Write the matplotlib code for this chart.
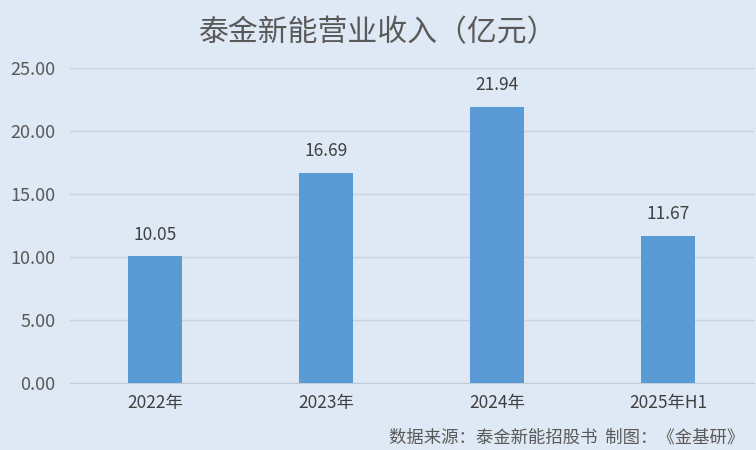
import matplotlib.pyplot as plt

plt.rcParams['font.family'] = ['Noto Sans CJK SC', 'DejaVu Sans']

categories = ["2022年", "2023年", "2024年", "2025年H1"]
revenue = [10.05, 16.69, 21.94, 11.67]
yticks = [0, 5, 10, 15, 20, 25]

bg = "#dfe9f5"
fig = plt.figure(figsize=(7.56, 4.5), dpi=100, facecolor=bg)
ax = fig.add_axes([0.092, 0.149, 0.905, 0.70], facecolor=bg)

x = range(len(categories))
bars = ax.bar(x, revenue, width=0.315, color="#5b9bd5", zorder=3)
for xi, v in zip(x, revenue):
    ax.text(xi, v + 1.0, f"{v:.2f}", ha="center", va="bottom",
            fontsize=12.5, color="#404040")

ax.set_xlim(-0.5, 3.5)
ax.set_ylim(0, 25)
ax.set_yticks(yticks)
ax.set_yticklabels([f"{t:.2f}" for t in yticks], fontsize=13, color="#595959")
ax.set_xticks(list(x))
ax.set_xticklabels(categories, fontsize=12.5, color="#404040")
ax.tick_params(length=0, pad=8)
ax.tick_params(axis="y", pad=10)
ax.grid(axis="y", color="#c8d4e0", linewidth=1, zorder=0)
for s in ["top", "right", "left"]:
    ax.spines[s].set_visible(False)
ax.spines["bottom"].set_color("#c0ccd8")

fig.text(0.5, 0.927, "泰金新能营业收入（亿元）", ha="center", va="center",
         fontsize=21.5, color="#595959")
fig.text(0.985, 0.028, "数据来源：泰金新能招股书  制图：《金基研》", ha="right",
         va="center", fontsize=12.5, color="#595959")

fig.savefig("out.png", dpi=100, facecolor=bg)
